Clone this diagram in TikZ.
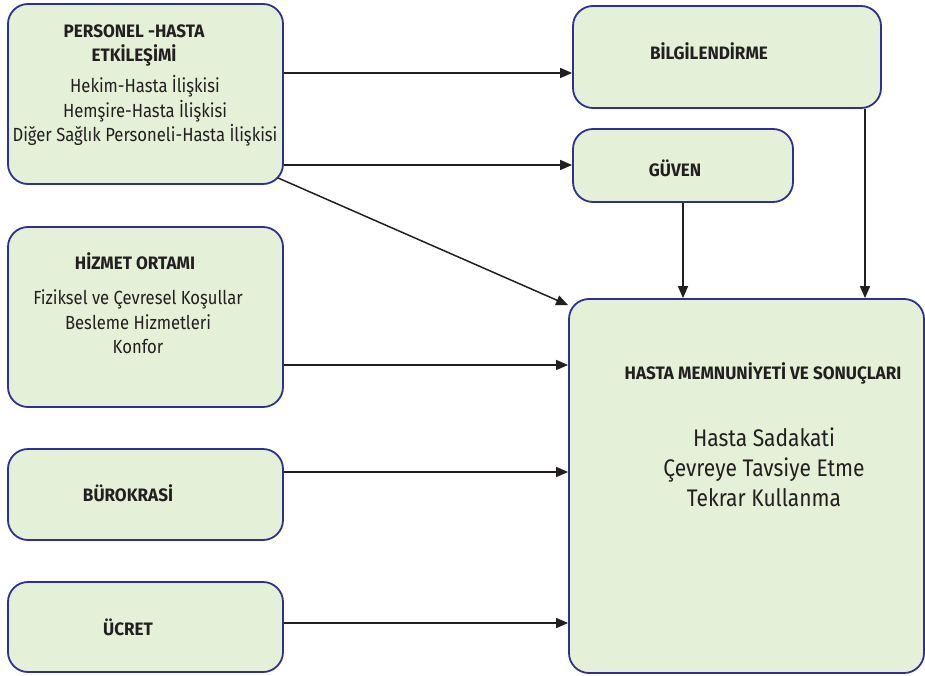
\documentclass[tikz,border=0pt]{standalone}
\usepackage{fontspec}
\setmainfont{Fira Sans}[FakeStretch=0.875,BoldFeatures={FakeStretch=0.95}]
\usetikzlibrary{arrows.meta,calc}
\definecolor{boxfill}{HTML}{E5F0D8}
\definecolor{boxline}{HTML}{2E3192}
\definecolor{txt}{HTML}{231F20}
\tikzset{
  box/.style={draw=boxline, fill=boxfill, line width=1.8pt, rounded corners=20pt, inner sep=0pt},
  ttl/.style={font=\fontsize{18}{24}\selectfont\bfseries, text=txt, align=center, inner sep=0pt},
  body/.style={font=\fontsize{19}{24.5}\selectfont, text=txt, align=center, inner sep=0pt},
  big/.style={font=\fontsize{24}{30}\selectfont, text=txt, align=center, inner sep=0pt},
  arr/.style={draw=txt, line width=1.5pt, -{Triangle[length=12pt,width=10pt]}},
}
\begin{document}
\begin{tikzpicture}[x=1pt,y=-1pt]
\useasboundingbox (0,0) rectangle (925,676);
% boxes
\node[box, minimum width=275pt, minimum height=180pt] (p) at (145.5,94) {};
\node[box, minimum width=308pt, minimum height=102pt] (b) at (727,57) {};
\node[box, minimum width=220pt, minimum height=73pt] (g) at (683,165.5) {};
\node[box, minimum width=275pt, minimum height=180pt] (h) at (145.5,317) {};
\node[box, minimum width=275pt, minimum height=91pt] (k) at (145.5,494.5) {};
\node[box, minimum width=275pt, minimum height=90pt] (u) at (145.5,627) {};
\node[box, minimum width=355pt, minimum height=374pt] (m) at (746.5,486) {};
% texts
\node[ttl] (pt) at (134,45) {PERSONEL -HASTA\\ETKİLEŞİMİ};
\node[body] (pb) at (145,111) {Hekim-Hasta İlişkisi\\Hemşire-Hasta İlişkisi\\Diğer Sağlık Personeli-Hasta İlişkisi};
\node[ttl] (bt) at (709,51) {BİLGİLENDİRME};
\node[ttl] (gt) at (675,168) {GÜVEN};
\node[ttl] (ht) at (135,261) {HİZMET ORTAMI};
\node[body] (hb) at (138,322) {Fiziksel ve Çevresel Koşullar\\Besleme Hizmetleri\\Konfor};
\node[ttl] (kt) at (128,493) {BÜROKRASİ};
\node[ttl] (ut) at (128,627) {ÜCRET};
\node[ttl] (mt) at (763,373) {HASTA MEMNUNİYETİ VE SONUÇLARI};
\node[big] (mb) at (764,467) {Hasta Sadakati\\Çevreye Tavsiye Etme\\Tekrar Kullanma};
% connectors
\draw[arr] (p.east |- 0,73) -- (b.west |- 0,73);
\draw[arr] (p.east |- 0,165) -- (g.west |- 0,165);
\draw[arr] ($(p.south east)+(-6,-7)$) -- ($(m.north west)+(0,7)$);
\draw[arr] (h.east |- 0,365) -- (m.west |- 0,365);
\draw[arr] (k.east |- 0,472) -- (m.west |- 0,472);
\draw[arr] (u.east |- 0,623) -- (m.west |- 0,623);
\draw[arr] (g.south -| 683,0) -- (m.north -| 683,0);
\draw[arr] (b.south -| 865,0) -- (m.north -| 865,0);
\end{tikzpicture}
\end{document}
